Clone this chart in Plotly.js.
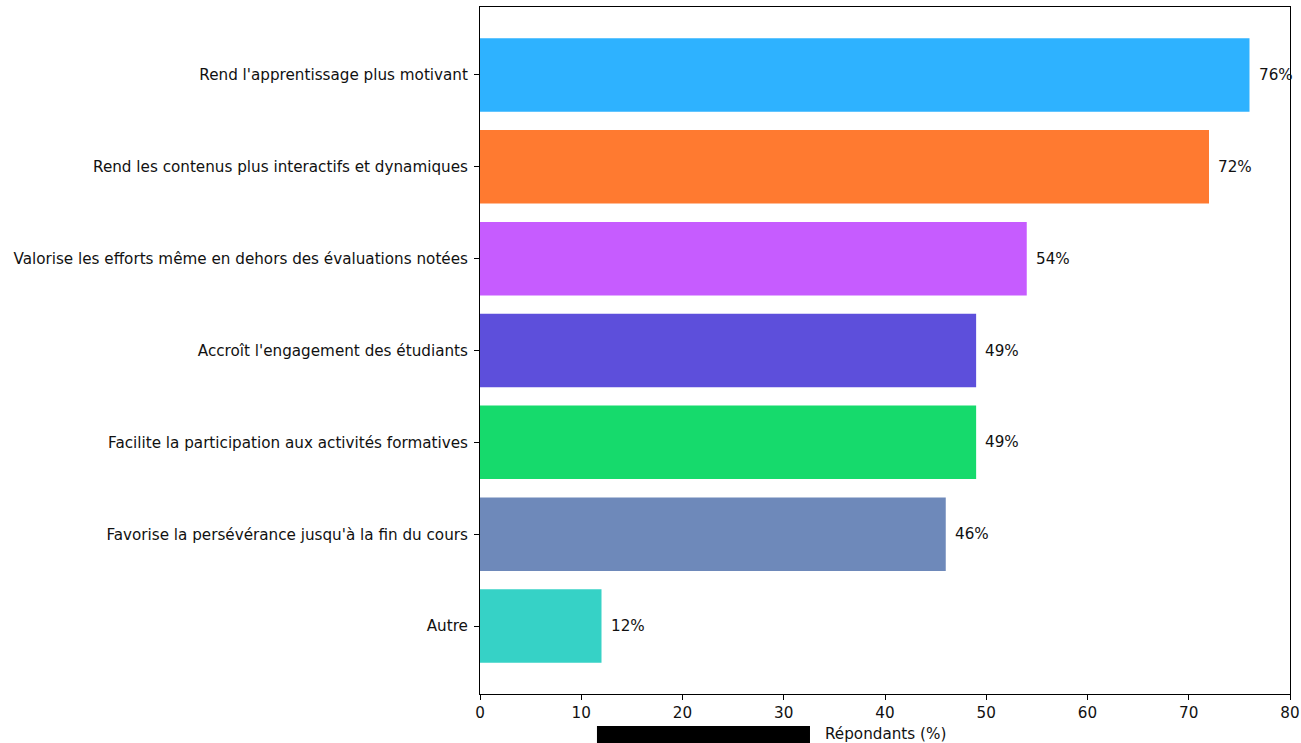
<!DOCTYPE html>
<html>
<head>
<meta charset="utf-8">
<script src="https://cdn.plot.ly/plotly-3.0.1.min.js"></script>
<style>html,body{margin:0;padding:0;background:#fff;}#chart{width:1301px;height:743px;}</style>
</head>
<body>
<div id="chart"></div>
<script>
const categories = [
  "Rend l'apprentissage plus motivant",
  "Rend les contenus plus interactifs et dynamiques",
  "Valorise les efforts même en dehors des évaluations notées",
  "Accroît l'engagement des étudiants",
  "Facilite la participation aux activités formatives",
  "Favorise la persévérance jusqu'à la fin du cours",
  "Autre"
];
const values = [76, 72, 54, 49, 49, 46, 12];
const barColors = ["#2EB2FF", "#FF7A30", "#C65CFF", "#5D4FDB", "#16DA6C", "#6E89BA", "#36D2C6"];
const xTicks = [0, 10, 20, 30, 40, 50, 60, 70, 80];
const xLabel = "Répondants (%)";

const font = {family: "DejaVu Sans", size: 15.2, color: "#111"};

const trace = {
  type: "bar",
  orientation: "h",
  x: values,
  y: categories,
  width: 0.8,
  marker: {color: barColors, line: {width: 0}},
  hoverinfo: "none"
};

const annotations = values.map((v, i) => ({
  x: v, y: categories[i], xref: "x", yref: "y",
  text: v + "%", showarrow: false, xanchor: "left", xshift: 7,
  font: font
}));

annotations.push({
  xref: "paper", yref: "paper", x: 0.5, y: 0, yanchor: "top", yshift: -29,
  text: xLabel, showarrow: false, font: font
});

const layout = {
  width: 1301, height: 743,
  margin: {l: 480, r: 11, t: 7, b: 49},
  paper_bgcolor: "#fff", plot_bgcolor: "#fff",
  font: font,
  showlegend: false,
  bargap: 0.2,
  xaxis: {
    range: [0, 80], tickvals: xTicks, ticktext: xTicks.map(String),
    showgrid: false, zeroline: false,
    showline: true, mirror: true, linecolor: "#000", linewidth: 1,
    ticks: "outside", ticklen: 5, tickwidth: 1, tickcolor: "#000",
    tickfont: font, fixedrange: true
  },
  yaxis: {
    type: "category", range: [6.74, -0.74],
    showgrid: false, zeroline: false,
    showline: true, mirror: true, linecolor: "#000", linewidth: 1,
    ticks: "outside", ticklen: 5, tickwidth: 1, tickcolor: "#000",
    tickfont: font, ticklabelstandoff: 3, fixedrange: true
  },
  annotations: annotations,
  shapes: [{
    type: "rect", xref: "paper", yref: "paper",
    x0: 0.1444, x1: 0.4074, y0: -0.0713, y1: -0.0466,
    fillcolor: "#000", line: {width: 0}, layer: "above"
  }]
};

Plotly.newPlot("chart", [trace], layout, {displayModeBar: false, staticPlot: true});
</script>
</body>
</html>
